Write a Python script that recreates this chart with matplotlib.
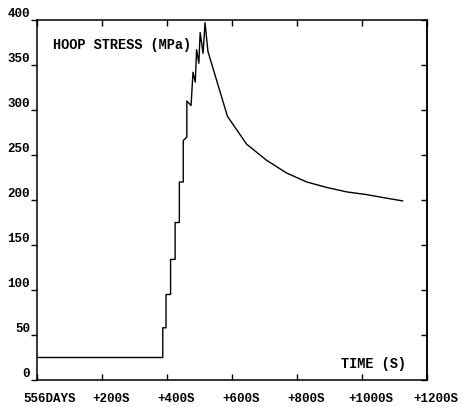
import matplotlib
matplotlib.use('Agg')
import matplotlib.pyplot as plt
import matplotlib.transforms as mtransforms

# hoop stress history
time_s = [0, 387, 387, 397, 397, 411, 411, 425, 425, 438, 438, 450, 450, 461,
          461, 474, 480, 487, 491, 498, 502, 511, 517, 526, 586, 645, 707,
          768, 830, 891, 953, 1014, 1076, 1125]
stress_mpa = [25, 25, 58, 58, 95, 95, 134, 134, 175, 175, 220, 220, 266, 270,
              310, 305, 342, 331, 367, 352, 386, 363, 397, 365, 293, 262, 244,
              230, 220, 214, 209, 206, 202, 199]

x_ticks = [0, 200, 400, 600, 800, 1000, 1200]
x_labels = ['556DAYS', '+200S', '+400S', '+600S', '+800S', '+1000S', '+1200S']
y_ticks = [0, 50, 100, 150, 200, 250, 300, 350, 400]

plt.rcParams['font.family'] = ['Liberation Mono', 'DejaVu Sans Mono']
plt.rcParams['font.weight'] = 'bold'

fig = plt.figure(figsize=(4.66, 4.07), dpi=100)
ax = fig.add_axes([37/466, 27/407, 390/466, 360/407])

ax.plot(time_s, stress_mpa, color='black', lw=1.0)

ax.set_xlim(0, 1200)
ax.set_ylim(0, 400)
ax.set_xticks(x_ticks)
ax.set_xticklabels(x_labels, fontsize=9, fontweight='bold')
ax.set_yticks(y_ticks)
ax.set_yticklabels([str(v) for v in y_ticks], fontsize=9, fontweight='bold')

for s in ax.spines.values():
    s.set_linewidth(1.1)

ax.tick_params(axis='x', direction='in', length=4, width=1, top=True, pad=9)
ax.tick_params(axis='y', direction='out', length=4, width=1, pad=1,
               left=True, right=False)

# right-hand ticks point inwards, no labels
sec = ax.secondary_yaxis('right')
sec.set_yticks(y_ticks)
sec.tick_params(direction='in', length=4, width=1, labelright=False)
sec.spines['right'].set_linewidth(1.1)

# shift the labels a little to the right like in the original
for i, lab in enumerate(ax.get_xticklabels()):
    dx = 13 if i == 0 else 9
    lab.set_transform(lab.get_transform() +
                      mtransforms.ScaledTranslation(dx/100, 0, fig.dpi_scale_trans))
for lab in ax.get_yticklabels():
    lab.set_verticalalignment('bottom')

ax.text(0.04, 0.93, 'HOOP STRESS (MPa)', transform=ax.transAxes,
        fontsize=9.8, fontweight='bold', ha='left', va='center')
ax.text(0.945, 0.045, 'TIME (S)', transform=ax.transAxes,
        fontsize=9.8, fontweight='bold', ha='right', va='center')

fig.savefig('out.png', dpi=100)
